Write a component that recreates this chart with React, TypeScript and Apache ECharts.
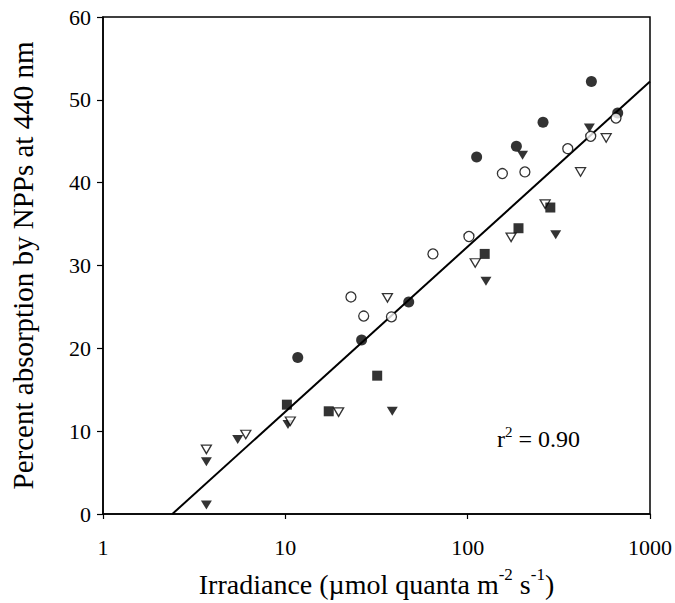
import React, { useEffect, useRef } from "react";
import * as echarts from "echarts";

// Irradiance (x) and percent absorption (y) per symbol group
const filledCircleX = [11.7, 26.2, 47.5, 112, 185, 259, 477, 665];
const filledCircleY = [18.9, 21.0, 25.6, 43.1, 44.4, 47.3, 52.2, 48.4];
const openCircleX = [22.9, 26.9, 38.2, 64.5, 101.6, 155, 206, 354, 473, 651];
const openCircleY = [26.2, 23.9, 23.8, 31.4, 33.5, 41.1, 41.3, 44.1, 45.6, 47.8];
const openTriX = [3.69, 6.07, 10.65, 19.6, 36.3, 110, 173, 266, 416, 575];
const openTriY = [7.8, 9.6, 11.2, 12.3, 26.1, 30.3, 33.4, 37.4, 41.3, 45.4];
const filledTriX = [3.69, 3.69, 5.48, 10.34, 38.6, 126, 200, 304, 465];
const filledTriY = [6.3, 1.1, 9.0, 10.8, 12.4, 28.1, 43.3, 33.7, 46.6];
const squareX = [10.2, 17.3, 31.9, 124, 190, 284];
const squareY = [13.2, 12.4, 16.7, 31.4, 34.5, 37.0];

// Regression line end points
const fitX = [2.4, 1000];
const fitY = [0, 52.2];

const yTicks = [0, 10, 20, 30, 40, 50, 60];
const xTicks = [1, 10, 100, 1000];

const zip = (xs: number[], ys: number[]) => xs.map((x, i) => [x, ys[i]]);

const FONT = "'Liberation Serif', 'Times New Roman', serif";

export default function App() {
  const ref = useRef<HTMLDivElement>(null);
  useEffect(() => {
    if (!ref.current) return;
    const chart = echarts.init(ref.current, null, { renderer: "svg" });
    const black = "#000";
    const tickRich = { t: { fontSize: 22, fontFamily: FONT, color: black } };
    chart.setOption({
      animation: false,
      backgroundColor: "#fff",
      textStyle: { fontFamily: FONT },
      grid: {
        left: 97,
        right: 24,
        top: 17,
        bottom: 87,
        show: true,
        borderColor: black,
        borderWidth: 1.5,
        backgroundColor: "transparent",
      },
      xAxis: {
        type: "log",
        logBase: 10,
        min: xTicks[0],
        max: xTicks[xTicks.length - 1],
        axisLine: { lineStyle: { color: black, width: 1.5 } },
        axisTick: { show: true, length: 5, inside: false, lineStyle: { color: black, width: 1.2 } },
        minorTick: { show: false },
        splitLine: { show: false },
        axisLabel: {
          color: black,
          fontSize: 22,
          fontFamily: FONT,
          margin: 22,
          formatter: (v: number) => `{t|${Math.round(v)}}`,
          rich: tickRich,
        },
        name: "{n|Irradiance (µmol quanta m}{s|-2}{n| s}{s|-1}{n|)}",
        nameLocation: "middle",
        nameGap: 52,
        nameTextStyle: {
          color: black,
          fontSize: 28,
          fontFamily: FONT,
          rich: {
            n: { fontSize: 28, fontFamily: FONT, color: black, lineHeight: 36 },
            s: { fontSize: 17, fontFamily: FONT, color: black, lineHeight: 15, verticalAlign: "top" },
          },
        },
      },
      yAxis: {
        type: "value",
        min: yTicks[0],
        max: yTicks[yTicks.length - 1],
        interval: 10,
        axisLine: { show: true, lineStyle: { color: black, width: 1.5 } },
        axisTick: { show: true, length: 6, inside: false, lineStyle: { color: black, width: 1.2 } },
        splitLine: { show: false },
        axisLabel: {
          color: black,
          fontSize: 22,
          fontFamily: FONT,
          margin: 12,
          formatter: (v: number) => `{t|${v}}`,
          rich: tickRich,
        },
        name: "Percent absorption by NPPs at 440 nm",
        nameLocation: "middle",
        nameGap: 66,
        nameTextStyle: { color: black, fontSize: 29, fontFamily: FONT },
      },
      series: [
        {
          type: "line",
          data: zip(fitX, fitY),
          symbol: "none",
          lineStyle: { color: black, width: 2 },
          z: 1,
        },
        {
          type: "scatter",
          name: "filled circle",
          data: zip(filledCircleX, filledCircleY),
          symbol: "circle",
          symbolSize: 11,
          itemStyle: { color: black },
          z: 2,
        },
        {
          type: "scatter",
          name: "filled triangle",
          data: zip(filledTriX, filledTriY),
          symbol: "triangle",
          symbolRotate: 180,
          symbolSize: [11, 9],
          itemStyle: { color: black },
          z: 3,
        },
        {
          type: "scatter",
          name: "open circle",
          data: zip(openCircleX, openCircleY),
          symbol: "circle",
          symbolSize: 10,
          itemStyle: { color: "#fff", borderColor: black, borderWidth: 1.3 },
          z: 4,
        },
        {
          type: "scatter",
          name: "open triangle",
          data: zip(openTriX, openTriY),
          symbol: "triangle",
          symbolRotate: 180,
          symbolSize: [10, 8.5],
          itemStyle: { color: "#fff", borderColor: black, borderWidth: 1.3 },
          z: 5,
        },
        {
          type: "scatter",
          name: "filled square",
          data: zip(squareX, squareY),
          symbol: "rect",
          symbolSize: 10,
          itemStyle: { color: black },
          z: 6,
        },
      ],
      graphic: [
        {
          type: "text",
          left: 497,
          top: 424,
          style: {
            text: "{n|r}{s|2}{n| = 0.90}",
            fill: black,
            fontSize: 24,
            fontFamily: FONT,
            rich: {
              n: { fontSize: 24, fontFamily: FONT, fill: black, lineHeight: 30 },
              s: { fontSize: 15, fontFamily: FONT, fill: black, lineHeight: 15, verticalAlign: "top" },
            },
          },
        },
      ],
    });
    return () => chart.dispose();
  }, []);
  return (
    <div
      ref={ref}
      style={{ position: "fixed", left: 0, top: 0, width: 675, height: 603, background: "#fff" }}
    />
  );
}
